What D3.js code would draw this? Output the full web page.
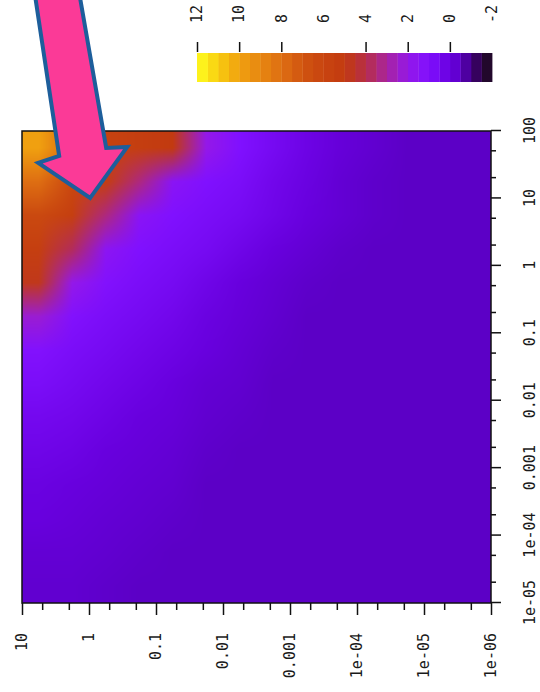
<!DOCTYPE html>
<html>
<head>
<meta charset="utf-8">
<script src="https://cdn.jsdelivr.net/npm/d3@7"></script>
<style>
  body { margin: 0; background: #fff; }
  svg text { font-family: "DejaVu Sans Mono", monospace; font-size: 15px; fill: #1a1a1a; }
</style>
</head>
<body>
<svg id="canvas"></svg>
<script>
// x runs 1e-5..100 (ends up on the right edge), y runs 1e-6..10 (ends up along the bottom)
let xEdges = [100, 31.6, 10, 3.16, 1, 0.316, 0.1, 0.0316, 0.01, 0.00316, 0.001, 3.16e-4, 1e-4, 3.16e-5, 1e-5];
let yEdges = [10, 3.16, 1, 0.316, 0.1, 0.0316, 0.01, 0.00316, 0.001, 3.16e-4, 1e-4, 3.16e-5, 1e-5, 3.16e-6, 1e-6];

// one row per x band (100 first), one column per y band (10 first)
let zValues = [
  [10.0, 7.8, 5.8, 5.4, 5.0, 2.0, 1.0, 0.6, 0.2, -0.1, -0.3, -0.5, -0.5, -0.5],
  [8.0, 6.2, 5.4, 3.4, 1.5, 1.0, 0.8, 0.4, 0.1, -0.2, -0.4, -0.5, -0.5, -0.5],
  [6.3, 5.5, 3.4, 1.5, 1.0, 0.8, 0.6, 0.3, 0.0, -0.2, -0.4, -0.5, -0.5, -0.5],
  [5.5, 3.8, 1.6, 1.0, 0.8, 0.6, 0.3, 0.0, -0.2, -0.4, -0.5, -0.5, -0.5, -0.5],
  [4.8, 2.0, 1.1, 0.8, 0.6, 0.3, 0.0, -0.2, -0.4, -0.5, -0.5, -0.5, -0.5, -0.5],
  [2.3, 1.1, 0.8, 0.6, 0.4, 0.1, -0.1, -0.3, -0.5, -0.5, -0.5, -0.5, -0.5, -0.5],
  [1.1, 0.8, 0.6, 0.4, 0.2, 0.0, -0.2, -0.4, -0.5, -0.5, -0.5, -0.5, -0.5, -0.5],
  [0.8, 0.6, 0.4, 0.2, 0.0, -0.2, -0.3, -0.5, -0.5, -0.5, -0.5, -0.5, -0.5, -0.5],
  [0.5, 0.4, 0.2, 0.0, -0.1, -0.3, -0.4, -0.5, -0.5, -0.5, -0.5, -0.5, -0.5, -0.5],
  [0.3, 0.2, 0.0, -0.1, -0.2, -0.4, -0.5, -0.5, -0.5, -0.5, -0.5, -0.5, -0.5, -0.5],
  [0.1, 0.0, -0.1, -0.2, -0.3, -0.5, -0.5, -0.5, -0.5, -0.5, -0.5, -0.5, -0.5, -0.5],
  [0.0, -0.1, -0.2, -0.3, -0.4, -0.5, -0.5, -0.5, -0.5, -0.5, -0.5, -0.5, -0.5, -0.5],
  [-0.2, -0.2, -0.3, -0.4, -0.5, -0.5, -0.5, -0.5, -0.5, -0.5, -0.5, -0.5, -0.5, -0.5],
  [-0.3, -0.3, -0.4, -0.5, -0.5, -0.5, -0.5, -0.5, -0.5, -0.5, -0.5, -0.5, -0.5, -0.5]
];

let xMajor = [1e-5, 1e-4, 0.001, 0.01, 0.1, 1, 10, 100];
let xTickLabels = ["1e-05", "1e-04", "0.001", "0.01", "0.1", "1", "10", "100"];
let yMajor = [1e-6, 1e-5, 1e-4, 0.001, 0.01, 0.1, 1, 10];
let yTickLabels = ["1e-06", "1e-05", "1e-04", "0.001", "0.01", "0.1", "1", "10"];

let colorbarLabels = [12, 10, 8, 6, 4, 2, 0, -2];
let colorbarTicks = [12, 10, 8, 4, 2, 0];

let colorStops = [-2, -1.5, -1, -0.5, 0, 1, 2, 3, 4, 5, 6, 7, 8, 10, 11, 12];
let colorHex = ["#180c18", "#2c0440", "#40007c", "#5c00c6", "#6800de", "#8010ff", "#9418e8", "#a824a0",
                "#b62e48", "#c23a10", "#c84410", "#d05410", "#de6e12", "#f0a010", "#f8cc10", "#ffff20"];

// where the arrow points, in data units
let arrowTip = { x: 9.5, y: 0.96 };

// the chart is built upright, then turned a quarter turn to the left
let width = 540;
let height = 692;
let plot = { left: 89, right: 561, top: 22, bottom: 491 };

let canvas = d3.select("#canvas").attr("width", width).attr("height", height);

let xScale = d3.scaleLog().domain([1e-5, 100]).range([plot.left, plot.right]);
let yScale = d3.scaleLog().domain([1e-6, 10]).range([plot.bottom, plot.top]);
let zColor = d3.scaleLinear().domain(colorStops).range(colorHex);
let cScale = d3.scaleLinear().domain([-2, 12]).range([492, 197]);

let chart = canvas.append("g").attr("transform", "translate(0," + height + ") rotate(-90)");

// heat map: one pixel per cell, then stretched over the plot so the browser smooths it
let cells = [];
zValues.forEach((row, r) => {
  row.forEach((z, c) => {
    cells.push({ x0: xEdges[r + 1], x1: xEdges[r], y0: yEdges[c + 1], y1: yEdges[c], z: z });
  });
});

let nx = xEdges.length - 1;
let ny = yEdges.length - 1;
let cellW = (xScale(100) - xScale(1e-5)) / nx;
let cellH = (yScale(1e-6) - yScale(10)) / ny;
let raster = document.createElement("canvas");
raster.width = nx;
raster.height = ny;
let ctx = raster.getContext("2d");
cells.forEach((d) => {
  ctx.fillStyle = zColor(d.z);
  ctx.fillRect(
    Math.round((xScale(d.x0) - plot.left) / cellW),
    Math.round((yScale(d.y1) - plot.top) / cellH),
    1, 1);
});

chart.append("image")
  .attr("href", raster.toDataURL())
  .attr("x", xScale(1e-5))
  .attr("y", yScale(10))
  .attr("width", xScale(100) - xScale(1e-5))
  .attr("height", yScale(1e-6) - yScale(10))
  .attr("preserveAspectRatio", "none")
  .style("image-rendering", "auto");

chart.append("rect")
  .attr("x", plot.left).attr("y", plot.top)
  .attr("width", plot.right - plot.left).attr("height", plot.bottom - plot.top)
  .attr("fill", "none").attr("stroke", "#111").attr("stroke-width", 1.5);

// axes
let minorTicks = (scale) => scale.ticks().filter((d) => {
  let lead = Math.round(d / Math.pow(10, Math.floor(Math.log10(d) + 1e-9)));
  return lead === 2 || lead === 5;
});

let styleAxis = (g) => {
  g.select(".domain").remove();
  g.selectAll(".tick line").attr("stroke", "#111").attr("stroke-width", 1.5);
};

chart.append("g")
  .attr("transform", "translate(0," + plot.bottom + ")")
  .call(d3.axisBottom(xScale).tickValues(minorTicks(xScale)).tickSize(5).tickFormat(""))
  .call(styleAxis);
chart.append("g")
  .attr("transform", "translate(0," + plot.bottom + ")")
  .call(d3.axisBottom(xScale).tickValues(xMajor).tickSize(10).tickPadding(23)
    .tickFormat((d, i) => xTickLabels[i]))
  .call(styleAxis);

chart.append("g")
  .attr("transform", "translate(" + plot.left + ",0)")
  .call(d3.axisLeft(yScale).tickValues(minorTicks(yScale)).tickSize(7).tickFormat(""))
  .call(styleAxis);
chart.append("g")
  .attr("transform", "translate(" + plot.left + ",0)")
  .call(d3.axisLeft(yScale).tickValues(yMajor).tickSize(12).tickPadding(18)
    .tickFormat((d, i) => yTickLabels[i]))
  .call(styleAxis);

chart.selectAll(".tick text").attr("fill", "#1a1a1a").attr("font-size", 15)
  .attr("font-family", "'DejaVu Sans Mono', monospace");

// colour bar
let bands = d3.range(-2, 12, 0.5);
chart.append("g")
  .selectAll("rect")
  .data(bands)
  .enter()
  .append("rect")
  .attr("x", 610)
  .attr("width", 29)
  .attr("y", (v) => cScale(v + 0.5))
  .attr("height", (v) => cScale(v) - cScale(v + 0.5) + 0.4)
  .attr("fill", (v) => zColor(v + 0.25));

let cbAxis = chart.append("g")
  .attr("transform", "translate(640,0)")
  .call(d3.axisRight(cScale).tickValues(colorbarLabels).tickSize(10).tickPadding(19)
    .tickFormat((d) => String(d)))
  .call(styleAxis);
cbAxis.selectAll(".tick").filter((d) => !colorbarTicks.includes(d)).select("line").remove();
cbAxis.selectAll(".tick text").attr("fill", "#1a1a1a").attr("font-size", 15)
  .attr("font-family", "'DejaVu Sans Mono', monospace");

// pink arrow pointing into the hot corner
let tipX = yScale(arrowTip.y);
let tipY = height - xScale(arrowTip.x);
let arrowShape = [[0, -2], [37, -53], [16, -52], [-15, -230], [-59, -230], [-31, -44], [-52, -37]];

canvas.append("path")
  .attr("transform", "translate(" + tipX + "," + tipY + ")")
  .attr("d", d3.line()(arrowShape) + "Z")
  .attr("fill", "#fb3a97")
  .attr("stroke", "#1d5e9b")
  .attr("stroke-width", 4)
  .attr("stroke-linejoin", "miter");
</script>
</body>
</html>
